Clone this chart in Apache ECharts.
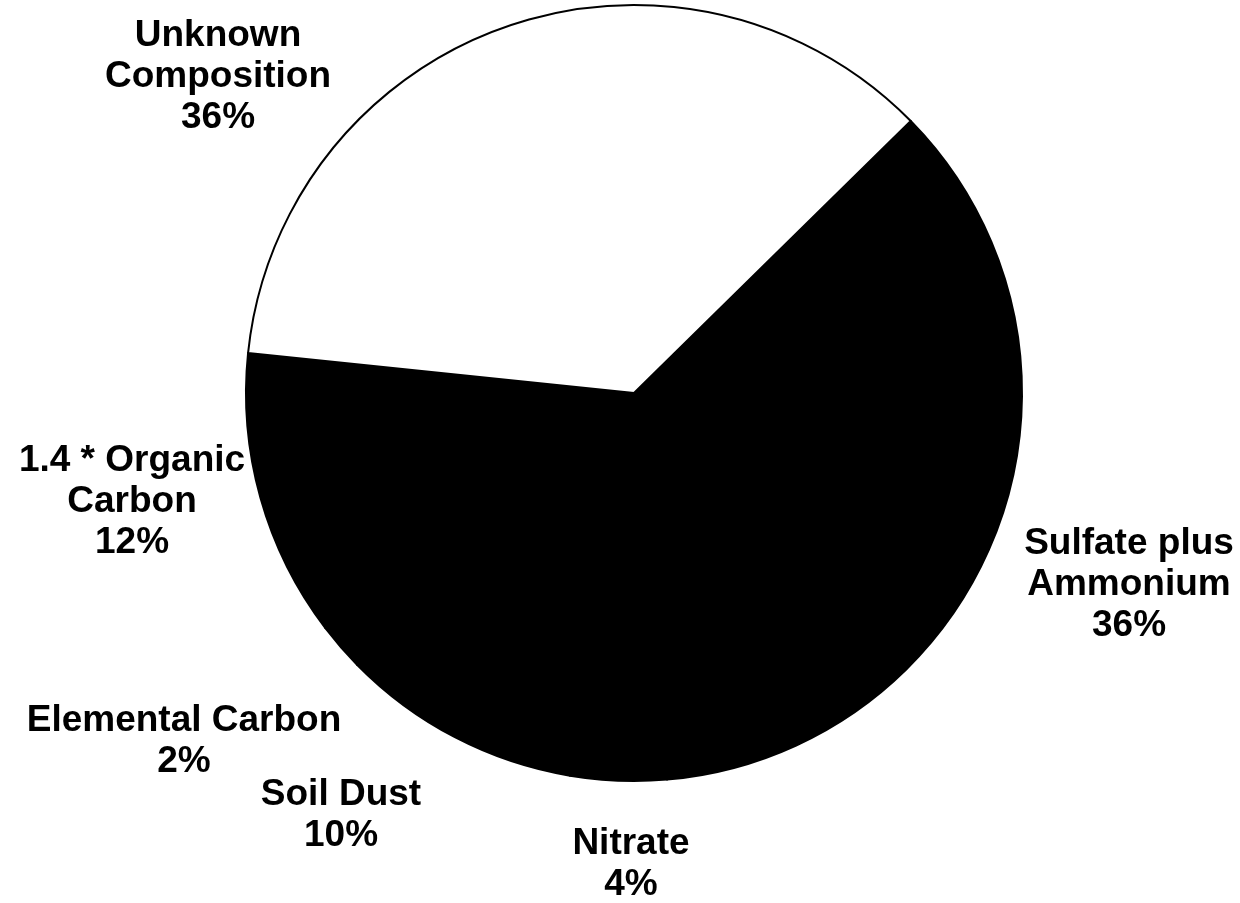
<!DOCTYPE html>
<html>
<head>
<meta charset="utf-8">
<script src="https://cdn.jsdelivr.net/npm/echarts@6/dist/echarts.min.js"></script>
<style>
html, body { margin: 0; padding: 0; background: #fff; }
#chart { width: 1240px; height: 903px; }
</style>
</head>
<body>
<div id="chart"></div>
<script>
// Data (clockwise from the upper-right boundary of the white slice)
const categories = [
  'Sulfate plus\nAmmonium',
  'Nitrate',
  'Soil Dust',
  'Elemental Carbon',
  '1.4 * Organic\nCarbon',
  'Unknown\nComposition'
];
const values = [36, 4, 10, 2, 12, 36];

// Styling (kept separate from data)
const sliceColors = ['#000', '#000', '#000', '#000', '#000', '#fff'];
const labelPositions = [
  [1129, 585],
  [631, 864],
  [341, 815],
  [184, 741],
  [132, 502],
  [218, 77]
];

const chart = echarts.init(document.getElementById('chart'), null, { renderer: 'canvas' });

chart.setOption({
  animation: false,
  backgroundColor: '#fff',
  series: [{
    type: 'pie',
    center: [634, 393],
    radius: 388,
    startAngle: 44.5,
    clockwise: true,
    avoidLabelOverlap: false,
    silent: true,
    emphasis: { disabled: true },
    itemStyle: { borderColor: '#000', borderWidth: 2 },
    label: {
      show: true,
      position: 'outside',
      formatter: p => p.name + '\n' + p.value + '%',
      fontFamily: '"Liberation Sans", Arial, Helvetica, sans-serif',
      fontWeight: 'bold',
      fontSize: 37,
      lineHeight: 41,
      color: '#000',
      align: 'center'
    },
    labelLine: { show: false },
    labelLayout: function (params) {
      const pos = labelPositions[params.dataIndex];
      return { x: pos[0], y: pos[1], align: 'center', verticalAlign: 'middle' };
    },
    data: categories.map((name, i) => ({
      name: name,
      value: values[i],
      itemStyle: { color: sliceColors[i] }
    }))
  }]
});
</script>
</body>
</html>
